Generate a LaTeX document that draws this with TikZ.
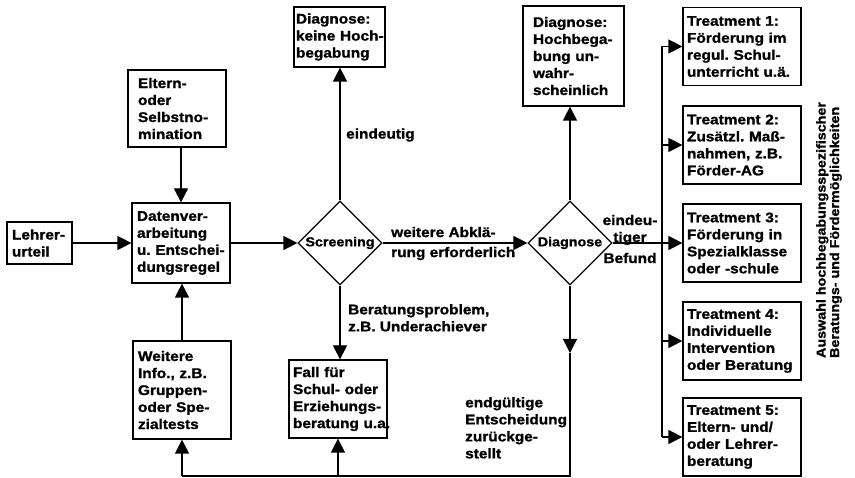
\documentclass[tikz,border=0pt]{standalone}
\usepackage{fontspec}
\setmainfont{Liberation Sans}[FakeStretch=1.1, BoldFeatures={FakeBold=1.2}]
\usetikzlibrary{arrows.meta,shapes.geometric}
\hyphenpenalty=10000 \exhyphenpenalty=10000
\begin{document}
\begin{tikzpicture}[x=1pt,y=-1pt,
  every node/.style={font=\fontsize{14}{17}\selectfont\bfseries},
  box/.style={draw, line width=1.2pt, align=left, inner ysep=0pt},
  tbox/.style={box, text width=110pt, inner xsep=4pt, minimum height=78pt},
  dia/.style={diamond, draw, line width=1.2pt, minimum width=84pt, minimum height=84pt, inner sep=0pt},
  diatext/.style={inner sep=0pt, font=\fontsize{13}{15}\selectfont\bfseries},
  lbl/.style={inner sep=0pt},
  ln/.style={line width=1.2pt},
  arr/.style={line width=1.2pt, -{Triangle[length=14pt,width=14pt]}}]
\useasboundingbox (0,0) rectangle (855,478);
\fill[white] (0,0) rectangle (855,478);

% boxes
\node[box, text width=55pt, inner xsep=5pt, minimum height=42pt] (lehrer) at (39.5,243) {Lehrer-\\urteil};
\node[box, text width=78pt, inner xsep=10pt, minimum height=77pt] (eltern) at (177,108.5) {Eltern-\\oder\\Selbstno-\\mination};
\node[box, text width=88pt, inner xsep=5pt, minimum height=80pt] (daten) at (181,243) {Datenver-\\arbeitung\\u.~Entschei-\\dungsregel};
\node[box, text width=88pt, inner xsep=5pt, minimum height=98pt] (weitere) at (182,390) {Weitere\\Info.,~z.B.\\Gruppen-\\oder~Spe-\\zialtests};
\node[box, text width=87pt, inner xsep=2pt, minimum height=60pt] (dk) at (339.5,37) {Diagnose:\\keine~Hoch-\\begabung};
\node[box, text width=90pt, inner xsep=4pt, minimum height=78pt] (fall) at (338,399) {Fall~für\\Schul-~oder\\Erziehungs-\\beratung~u.a.};
\node[box, text width=81pt, inner xsep=10pt, minimum height=100pt] (du) at (573.5,56) {Diagnose:\\Hochbega-\\bung~un-\\wahr-\\scheinlich};

\node[tbox] (t1) at (742,46.5) {Treatment~1:\\Förderung~im\\regul.~Schul-\\unterricht~u.ä.};
\node[tbox] (t2) at (742,145) {Treatment~2:\\Zusätzl.~Maß-\\nahmen,~z.B.\\Förder-AG};
\node[tbox] (t3) at (742,243) {Treatment~3:\\Förderung~in\\Spezialklasse\\oder~-schule};
\node[tbox] (t4) at (742,341) {Treatment~4:\\Individuelle\\Intervention\\oder~Beratung};
\node[tbox] (t5) at (742,437) {Treatment~5:\\Eltern-~und/\\oder~Lehrer-\\beratung};

% diamonds
\node[dia] (scr) at (340,243) {};
\node[diatext] (scrt) at (scr.center) {Screening};
\node[dia] (dg) at (570,243) {};
\node[diatext] (dgt) at (dg.center) {Diagnose};

% labels
\node[lbl, anchor=west] (l1) at (346,135) {eindeutig};
\node[lbl, anchor=west, align=left] (l2) at (391,243.5) {weitere Abklä-\\[3pt]rung erforderlich};
\node[lbl, align=center] (l3) at (630,239) {eindeu-\\tiger\\[4pt]Befund};
\node[lbl, anchor=north west, align=left] (l4) at (348,304) {Beratungsproblem,\\z.B. Underachiever};
\node[lbl, anchor=north west, align=left] (l5) at (465,397) {endgültige\\Entscheidung\\zurückge-\\stellt};
\node[lbl, rotate=90, align=left, font=\fontsize{13}{13.5}\selectfont\bfseries] (sel) at (829,230) {Auswahl hochbegabungsspezifischer\\Beratungs- und Fördermöglichkeiten};

% connectors
\draw[arr] (lehrer.east) -- (daten.west);
\draw[arr] (daten.north |- eltern.south) -- (daten.north);
\draw[arr] (weitere.north) -- (weitere.north |- daten.south);
\draw[arr] (daten.east) -- (scr.west);
\draw[arr] (scr.north) -- (scr.north |- dk.south);
\draw[arr] (scr.east) -- (dg.west);
\draw[arr] (scr.south) -- (scr.south |- fall.north);
\draw[arr] (dg.north) -- (dg.north |- du.south);
\draw[arr] (dg.east) -- (t3.west);

\coordinate (bus) at (662,0);
\draw[ln] (bus |- t1.west) -- (bus |- t5.west);
\foreach \t in {t1,t2,t4,t5} \draw[arr] (bus |- \t.west) -- (\t.west);

\coordinate (mid) at (570,353);
\coordinate (bot) at (570,476);
\draw[arr] (dg.south) -- (mid);
\draw[ln] (mid) -- (bot) -- (bot -| weitere.south);
\draw[arr] (bot -| weitere.south) -- (weitere.south);
\draw[arr] (bot -| fall.south) -- (fall.south);
\end{tikzpicture}
\end{document}
